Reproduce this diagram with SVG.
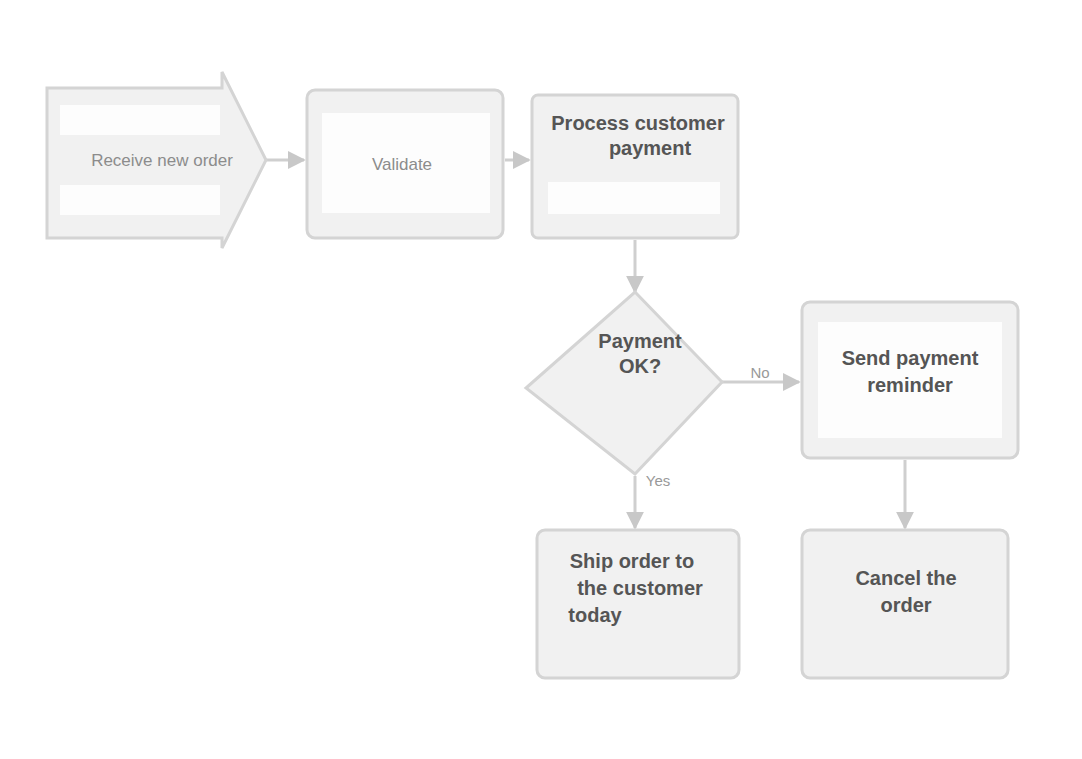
<svg xmlns="http://www.w3.org/2000/svg" width="1082" height="759" viewBox="0 0 1082 759">
<defs>
<marker id="arr" viewBox="0 0 10 10" refX="9" refY="5" markerWidth="6" markerHeight="6" orient="auto"><path d="M0,0 L10,5 L0,10 Z" fill="#c8c8c8"/></marker>
<style>
.box{fill:#f1f1f1;stroke:#d4d4d4;stroke-width:3}
.inner{fill:#fdfdfd;stroke:none}
.lt{font-family:"Liberation Sans",Arial,sans-serif;font-size:17px;fill:#8c8c8c;text-anchor:middle}
.dk{font-family:"Liberation Sans",Arial,sans-serif;font-size:20px;font-weight:bold;fill:#555;text-anchor:middle}
.lbl{font-family:"Liberation Sans",Arial,sans-serif;font-size:15px;fill:#999;text-anchor:middle}
.edge{fill:none;stroke:#cfcfcf;stroke-width:3;marker-end:url(#arr)}
</style>
</defs>
<rect width="1082" height="759" fill="#fff"/>
<g id="connectors">
<line class="edge" x1="262" y1="160" x2="304" y2="160"/>
<line class="edge" x1="505" y1="160" x2="529" y2="160"/>
<line class="edge" x1="635" y1="240" x2="635" y2="292"/>
<line class="edge" x1="720" y1="382" x2="799" y2="382"/>
<line class="edge" x1="635" y1="476" x2="635" y2="528"/>
<line class="edge" x1="905" y1="460" x2="905" y2="528"/>
<text class="lbl" x="760" y="378">No</text>
<text class="lbl" x="658" y="486">Yes</text>
</g>
<g id="n1">
<path class="box" d="M47,88 H222 V72 L266,160 L222,248 V238 H47 Z"/>
<rect class="inner" x="60" y="105" width="160" height="30"/>
<rect class="inner" x="60" y="185" width="160" height="30"/>
<text class="lt" x="162" y="166">Receive new order</text>
</g>
<g id="n2">
<rect class="box" x="307" y="90" width="196" height="148" rx="8"/>
<rect class="inner" x="322" y="113" width="168" height="100"/>
<text class="lt" x="402" y="170">Validate</text>
</g>
<g id="n3">
<rect class="box" x="532" y="95" width="206" height="143" rx="6"/>
<rect class="inner" x="548" y="182" width="172" height="32"/>
<text class="dk" x="638" y="130">Process customer</text>
<text class="dk" x="650" y="155">payment</text>
</g>
<g id="n4">
<path class="box" d="M635,292 L722,382 L635,474 L526,388 Z"/>
<text class="dk" x="640" y="348">Payment</text>
<text class="dk" x="640" y="373">OK?</text>
</g>
<g id="n5">
<rect class="box" x="802" y="302" width="216" height="156" rx="8"/>
<rect class="inner" x="818" y="322" width="184" height="116"/>
<text class="dk" x="910" y="365">Send payment</text>
<text class="dk" x="910" y="392">reminder</text>
</g>
<g id="n6">
<rect class="box" x="537" y="530" width="202" height="148" rx="8"/>
<text class="dk" x="632" y="568">Ship order to</text>
<text class="dk" x="640" y="595">the customer</text>
<text class="dk" x="595" y="622">today</text>
</g>
<g id="n7">
<rect class="box" x="802" y="530" width="206" height="148" rx="8"/>
<text class="dk" x="906" y="585">Cancel the</text>
<text class="dk" x="906" y="612">order</text>
</g>
</svg>
